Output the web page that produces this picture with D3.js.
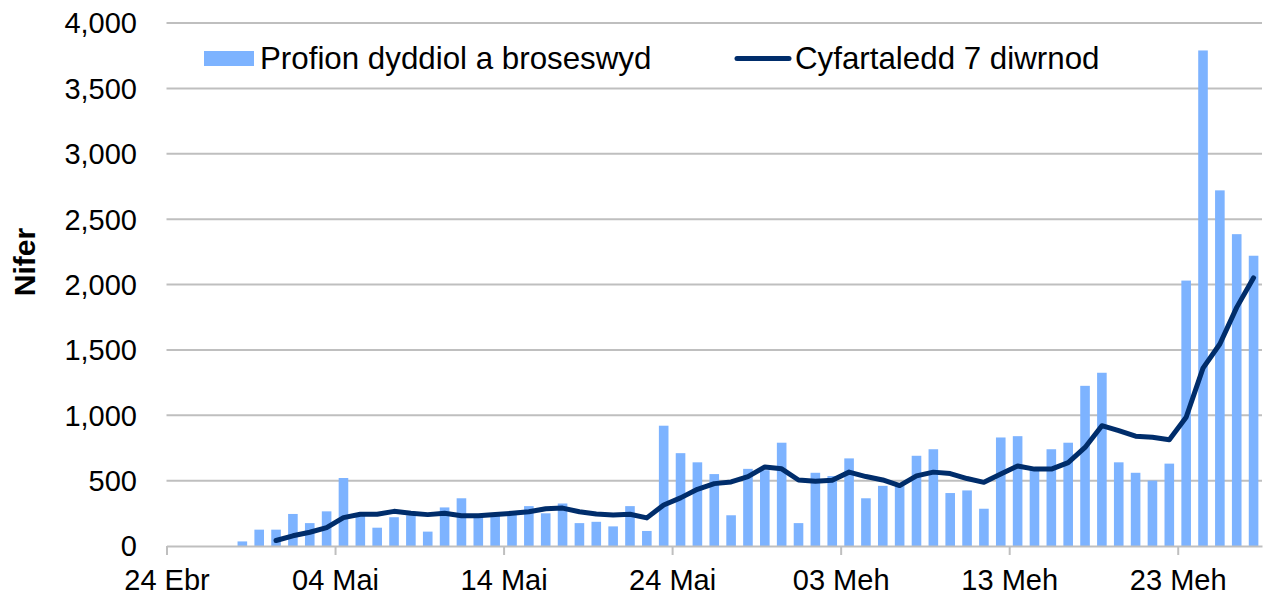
<!DOCTYPE html>
<html>
<head>
<meta charset="utf-8">
<script src="https://cdn.jsdelivr.net/npm/d3@7"></script>
<style>
  html, body { margin: 0; padding: 0; background: #fff; }
  svg { display: block; font-family: "Liberation Sans", Arial, sans-serif; }
</style>
</head>
<body>
<svg id="chart" width="1265" height="597"></svg>
<script>
// ---- data ----
const dates = [
  "2020-04-28","2020-04-29","2020-04-30","2020-05-01","2020-05-02","2020-05-03","2020-05-04",
  "2020-05-05","2020-05-06","2020-05-07","2020-05-08","2020-05-09","2020-05-10","2020-05-11",
  "2020-05-12","2020-05-13","2020-05-14","2020-05-15","2020-05-16","2020-05-17","2020-05-18",
  "2020-05-19","2020-05-20","2020-05-21","2020-05-22","2020-05-23","2020-05-24","2020-05-25",
  "2020-05-26","2020-05-27","2020-05-28","2020-05-29","2020-05-30","2020-05-31","2020-06-01",
  "2020-06-02","2020-06-03","2020-06-04","2020-06-05","2020-06-06","2020-06-07","2020-06-08",
  "2020-06-09","2020-06-10","2020-06-11","2020-06-12","2020-06-13","2020-06-14","2020-06-15",
  "2020-06-16","2020-06-17","2020-06-18","2020-06-19","2020-06-20","2020-06-21","2020-06-22",
  "2020-06-23","2020-06-24","2020-06-25","2020-06-26","2020-06-27"
];
const dailyTests = [
  35,125,125,245,175,265,520,
  245,140,220,235,110,295,365,
  240,245,255,305,250,325,175,
  185,150,305,115,920,710,640,
  550,235,590,580,790,175,560,
  535,670,365,460,470,690,740,
  405,425,285,830,840,585,740,
  790,1225,1325,640,560,500,630,
  2030,3790,2720,2385,2220
];
const avg7 = [
  null,null,42,78,105,140,217,
  243,243,265,250,240,250,232,
  232,240,250,262,285,290,262,
  245,237,243,215,314,368,434,
  477,490,531,605,590,505,495,
  503,565,531,505,462,536,565,
  554,516,487,550,612,588,588,
  638,754,920,882,840,831,812,
  985,1360,1545,1825,2051
];
const tickDates = ["2020-04-24","2020-05-04","2020-05-14","2020-05-24","2020-06-03","2020-06-13","2020-06-23"];
const tickLabels = ["24 Ebr","04 Mai","14 Mai","24 Mai","03 Meh","13 Meh","23 Meh"];
const yTicks = [0,500,1000,1500,2000,2500,3000,3500,4000];
const seriesNames = ["Profion dyddiol a broseswyd","Cyfartaledd 7 diwrnod"];
const axisTitle = "Nifer";
const xStart = "2020-04-24", xEnd = "2020-06-28";

// ---- setup ----
(function () {
const parse = d3.utcParse("%Y-%m-%d");
const svg = d3.select("#chart");
const pLeft = 166.5, pRight = 1262, pTop = 23, pBottom = 546;
const x = d3.scaleUtc().domain([parse(xStart), parse(xEnd)]).range([pLeft, pRight]);
const y = d3.scaleLinear().domain([0, 4000]).range([pBottom, pTop]);
const half = d => d3.utcHour.offset(d, 12);
const data = dates.map((d, i) => ({ date: parse(d), v: dailyTests[i], a: avg7[i] }));

const barColor = "#7db3ff", lineColor = "#002d6b", gridColor = "#bfbfbf";
const fontSize = 29;

// gridlines
svg.append("g").selectAll("line").data(yTicks.filter(t => t > 0)).join("line")
  .attr("x1", pLeft).attr("x2", pRight)
  .attr("y1", d => y(d)).attr("y2", d => y(d))
  .attr("stroke", gridColor).attr("stroke-width", 2);

// y labels
svg.append("g").selectAll("text").data(yTicks).join("text")
  .attr("x", 137).attr("y", d => y(d)).attr("dy", "0.36em")
  .attr("text-anchor", "end").attr("font-size", fontSize).attr("fill", "#000")
  .text(d => d3.format(",")(d));

// y title
svg.append("text")
  .attr("transform", "translate(35,262) rotate(-90)")
  .attr("text-anchor", "middle").attr("font-size", 30).attr("font-weight", "bold")
  .attr("fill", "#000").text(axisTitle);

// bars
const bw = 9.6;
svg.append("g").selectAll("rect").data(data).join("rect")
  .attr("x", d => x(half(d.date)) - bw / 2)
  .attr("width", bw)
  .attr("y", d => y(d.v))
  .attr("height", d => y(0) - y(d.v))
  .attr("fill", barColor);

// x axis
const xAxis = d3.axisBottom(x)
  .tickValues(tickDates.map(parse))
  .tickFormat((d, i) => tickLabels[i])
  .tickSize(9).tickSizeOuter(0).tickPadding(14);
const gx = svg.append("g").attr("transform", `translate(0,${pBottom})`).call(xAxis);
gx.select(".domain").attr("stroke", gridColor).attr("stroke-width", 2);
gx.selectAll(".tick line").attr("stroke", gridColor).attr("stroke-width", 2);
gx.selectAll(".tick text").attr("font-size", fontSize).attr("fill", "#000")
  .attr("font-family", "\"Liberation Sans\", Arial, sans-serif");

// line
const line = d3.line()
  .defined(d => d.a != null)
  .x(d => x(half(d.date)))
  .y(d => y(d.a));
svg.append("path").datum(data).attr("d", line)
  .attr("fill", "none").attr("stroke", lineColor).attr("stroke-width", 5)
  .attr("stroke-linejoin", "round").attr("stroke-linecap", "round");

// legend
const lg = svg.append("g");
lg.append("rect").attr("x", 204).attr("y", 51).attr("width", 50).attr("height", 15).attr("fill", barColor);
lg.append("text").attr("x", 260).attr("y", 58).attr("dy", "0.36em")
  .attr("font-size", 31.3).attr("fill", "#000").text(seriesNames[0]);
lg.append("line").attr("x1", 737).attr("x2", 789).attr("y1", 58.5).attr("y2", 58.5)
  .attr("stroke", lineColor).attr("stroke-width", 5).attr("stroke-linecap", "round");
lg.append("text").attr("x", 795).attr("y", 58).attr("dy", "0.36em")
  .attr("font-size", 31.3).attr("fill", "#000").text(seriesNames[1]);
})();
</script>
</body>
</html>
